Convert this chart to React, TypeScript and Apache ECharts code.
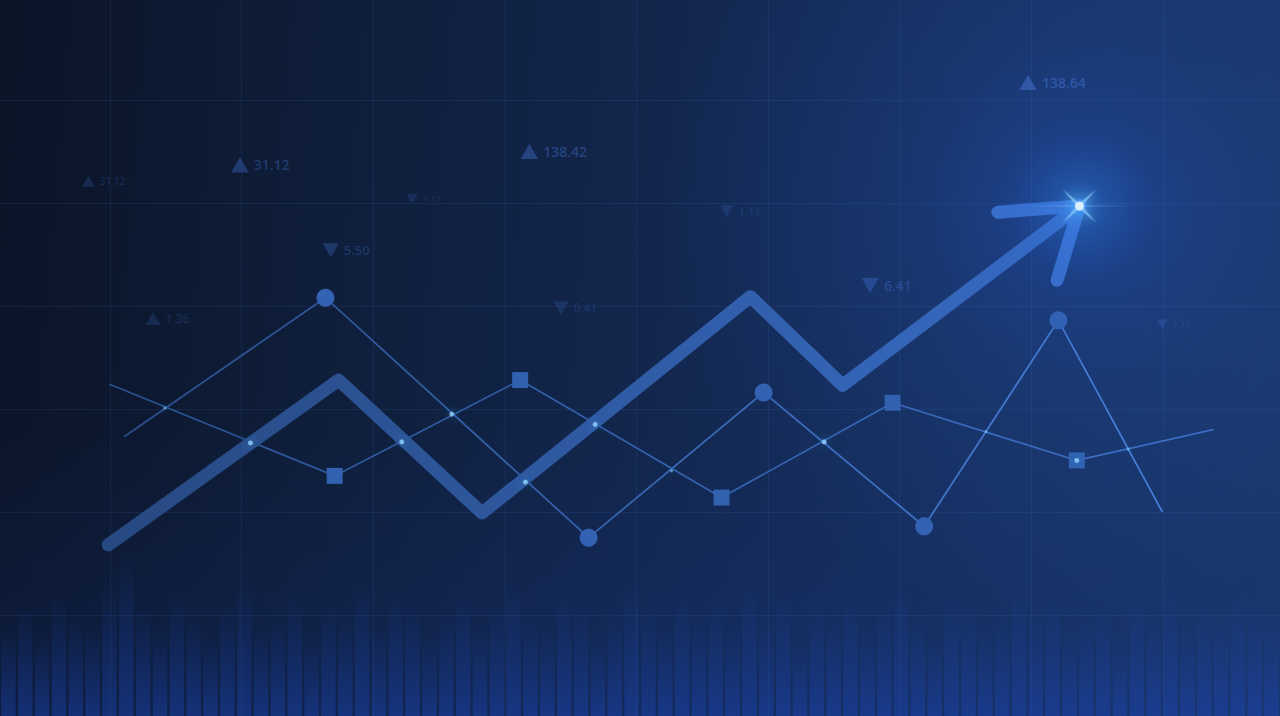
import React, { useEffect, useRef } from "react";
import * as echarts from "echarts";

// x: time index of the price chart, y: price level
const trendLine = [[9.9, 16.8], [27.4, 32.8], [38.3, 19.9], [58.7, 40.9], [65.7, 32.3], [83.7, 49.7]];
const arrowHead = [[77.5, 49.1], [83.7, 49.7], [82.0, 42.5]];
const circleLine = [[11.1, 27.3], [26.4, 40.8], [46.4, 17.5], [59.7, 31.6], [71.9, 18.6], [82.1, 38.6], [90.0, 20.0]];
const squareLine = [[10.0, 32.4], [27.1, 23.5], [41.2, 32.8], [56.5, 21.4], [69.5, 30.6], [83.5, 25.0], [93.9, 28.0]];

const tickerPos = [[8.4, 52.1], [19.9, 53.7], [41.9, 55.0], [79.8, 61.7], [26.8, 45.4], [13.3, 38.8], [44.3, 39.8], [56.9, 49.2], [67.8, 42.0], [33.0, 50.4], [90.0, 38.2]];
const tickerText = ["31.12", "31.12", "138.42", "138.64", "5.50", "1.36", "0.41", "1.11", "6.41", "1.11", "1.11"];
const tickerUp = [true, true, true, true, false, true, false, false, false, false, false];

const crossings = [[20.7, 26.7], [32.2, 26.8], [36.0, 29.5], [41.6, 22.9], [46.9, 28.5], [64.3, 26.8], [83.5, 25.0]];
const faintCrossings = [[52.7, 24.0], [76.6, 27.8], [87.4, 26.1], [14.2, 30.1]];

const volume = [9, 11, 8, 12, 10, 9, 13, 16, 11, 9, 12, 10, 8, 11, 13, 9, 10, 12, 8, 11, 10, 13, 9, 12, 11, 8, 10, 12, 9, 11, 13, 10, 9, 12, 11, 8, 10, 13, 11, 9, 12, 10, 11, 9, 13, 10, 12, 8, 11, 10, 12, 9, 11, 13, 10, 8, 12, 11, 9, 10, 13, 11, 12, 9, 10, 11, 8, 12, 10, 13, 9, 11, 10, 12, 11, 10];

const tip = arrowHead[1];

export default function App() {
  const ref = useRef<HTMLDivElement>(null);
  useEffect(() => {
    if (!ref.current) return;
    const chart = echarts.init(ref.current, null, { renderer: "svg" });
    const hideAxis = {
      axisLine: { show: false },
      axisTick: { show: false },
      axisLabel: { show: false },
    };
    const noSplit = { show: false };
    const gridLine = { show: true, lineStyle: { color: "rgba(80,125,210,0.13)", width: 1 } };
    const hGrad = (a: string, b: string) => ({
      type: "linear", x: 0, y: 0, x2: 1, y2: 0,
      colorStops: [{ offset: 0, color: a }, { offset: 1, color: b }],
    });
    const look = [
      { fs: 10, c: "rgba(50,90,165,0.38)" },
      { fs: 14, c: "rgba(50,90,165,0.65)" },
      { fs: 14, c: "rgba(55,95,175,0.7)" },
      { fs: 14, c: "rgba(60,105,190,0.8)" },
      { fs: 13, c: "rgba(50,90,165,0.55)" },
      { fs: 12, c: "rgba(50,90,165,0.35)" },
      { fs: 12, c: "rgba(55,95,175,0.35)" },
      { fs: 11, c: "rgba(55,95,175,0.35)" },
      { fs: 14, c: "rgba(55,100,185,0.62)" },
      { fs: 9, c: "rgba(55,95,175,0.3)" },
      { fs: 9, c: "rgba(60,105,190,0.4)" },
    ];
    const marked = (pts: number[][], sym: string) =>
      pts.map((p, i) => ({ value: p, symbol: i === 0 || i === pts.length - 1 ? "none" : sym }));

    const option = {
      animation: false,
      backgroundColor: "transparent",
      grid: [
        { left: 0, right: 0, top: 0, bottom: 0, containLabel: false },
        { left: 110, right: 0, top: 0, bottom: 0, containLabel: false },
        { left: 0, right: 0, top: 100, bottom: 0, containLabel: false },
      ],
      xAxis: [
        { type: "value", gridIndex: 0, min: 1.67, max: 98.94, ...hideAxis, splitLine: noSplit },
        { type: "value", gridIndex: 1, min: 0, max: 88.9, interval: 10, ...hideAxis, splitLine: gridLine },
        { type: "value", gridIndex: 2, min: 0, max: 10, ...hideAxis, splitLine: noSplit },
        { type: "category", gridIndex: 0, data: volume.map((_, i) => String(i)), boundaryGap: true, show: false },
      ],
      yAxis: [
        { type: "value", gridIndex: 0, min: 0.19, max: 69.7, ...hideAxis, splitLine: noSplit },
        { type: "value", gridIndex: 1, min: 0, max: 10, ...hideAxis, splitLine: noSplit },
        { type: "value", gridIndex: 2, inverse: true, min: 0, max: 59.8, interval: 10, ...hideAxis, splitLine: gridLine },
      ],
      series: [
        {
          type: "bar",
          xAxisIndex: 3,
          yAxisIndex: 0,
          data: volume,
          barCategoryGap: "14%",
          silent: true,
          z: 1,
          itemStyle: {
            color: {
              type: "linear", x: 0, y: 0, x2: 0, y2: 1,
              colorStops: [
                { offset: 0, color: "rgba(30,70,175,0)" },
                { offset: 1, color: "rgba(30,72,190,0.42)" },
              ],
            },
          },
        },
        {
          type: "line",
          xAxisIndex: 0,
          yAxisIndex: 0,
          data: marked(circleLine, "circle"),
          symbolSize: 18,
          lineStyle: { width: 1.7, color: hGrad("#2a4d8a", "#4680dc") },
          itemStyle: { color: "#3262b1" },
          z: 3,
        },
        {
          type: "line",
          xAxisIndex: 0,
          yAxisIndex: 0,
          data: marked(squareLine, "rect"),
          symbolSize: 16,
          lineStyle: { width: 1.7, color: hGrad("#2b5090", "#3c72ca") },
          itemStyle: { color: "#3161af" },
          z: 3,
        },
        {
          type: "line",
          xAxisIndex: 0,
          yAxisIndex: 0,
          data: trendLine,
          symbol: "none",
          lineStyle: { width: 13, cap: "round", join: "round", color: hGrad("#274982", "#376bc4") },
          z: 4,
        },
        {
          type: "line",
          xAxisIndex: 0,
          yAxisIndex: 0,
          data: arrowHead,
          symbol: "none",
          lineStyle: { width: 13, cap: "round", join: "round", color: "#3a70cb" },
          z: 4,
        },
        {
          type: "scatter",
          xAxisIndex: 0,
          yAxisIndex: 0,
          data: crossings,
          symbol: "circle",
          symbolSize: 5,
          itemStyle: { color: "#8fd6ff", shadowBlur: 12, shadowColor: "#39a8ff" },
          z: 6,
        },
        {
          type: "scatter",
          xAxisIndex: 0,
          yAxisIndex: 0,
          data: faintCrossings,
          symbol: "circle",
          symbolSize: 3,
          itemStyle: { color: "rgba(140,210,255,0.7)", shadowBlur: 6, shadowColor: "#39a8ff" },
          z: 6,
        },
        {
          type: "scatter",
          xAxisIndex: 0,
          yAxisIndex: 0,
          data: tickerPos.map((p, i) => ({
            value: p,
            symbol: "triangle",
            symbolRotate: tickerUp[i] ? 0 : 180,
            symbolSize: [look[i].fs * 1.25, look[i].fs * 1.1],
            itemStyle: { color: look[i].c },
            label: {
              show: true,
              position: "right",
              distance: 5,
              formatter: tickerText[i],
              fontSize: look[i].fs,
              fontWeight: 600,
              fontFamily: "Open Sans",
              color: look[i].c,
            },
          })),
          z: 2,
        },
        {
          type: "scatter",
          xAxisIndex: 0,
          yAxisIndex: 0,
          data: [tip],
          symbol: "circle",
          symbolSize: 340,
          silent: true,
          itemStyle: {
            color: {
              type: "radial", x: 0.5, y: 0.5, r: 0.5,
              colorStops: [
                { offset: 0, color: "rgba(80,175,255,0.65)" },
                { offset: 0.14, color: "rgba(50,130,245,0.38)" },
                { offset: 0.45, color: "rgba(35,95,220,0.12)" },
                { offset: 1, color: "rgba(30,80,200,0)" },
              ],
            },
          },
          z: 7,
        },
        {
          type: "scatter",
          xAxisIndex: 0,
          yAxisIndex: 0,
          data: [tip],
          symbol: "path://M0,-50 L3,-3 L50,0 L3,3 L0,50 L-3,3 L-50,0 L-3,-3 Z",
          symbolSize: [110, 10],
          silent: true,
          itemStyle: { color: "rgba(170,225,255,0.85)", shadowBlur: 10, shadowColor: "#3ea0ff" },
          z: 8,
        },
        {
          type: "scatter",
          xAxisIndex: 0,
          yAxisIndex: 0,
          data: [tip],
          symbol: "path://M0,-50 L4,-4 L50,0 L4,4 L0,50 L-4,4 L-50,0 L-4,-4 Z",
          symbolSize: 48,
          symbolRotate: 45,
          silent: true,
          itemStyle: { color: "rgba(150,215,255,0.8)", shadowBlur: 10, shadowColor: "#3ea0ff" },
          z: 8,
        },
        {
          type: "scatter",
          xAxisIndex: 0,
          yAxisIndex: 0,
          data: [tip],
          symbol: "circle",
          symbolSize: 9,
          silent: true,
          itemStyle: { color: "#eef9ff", shadowBlur: 18, shadowColor: "#5ab8ff" },
          z: 9,
        },
      ],
    };
    chart.setOption(option as any);
    return () => chart.dispose();
  }, []);

  return (
    <div
      style={{
        position: "fixed",
        left: 0,
        top: 0,
        width: 1280,
        height: 716,
        background:
          "radial-gradient(circle at 84% 29%, rgba(40,100,220,0.26) 0, rgba(40,100,220,0) 35%), linear-gradient(180deg, rgba(20,50,120,0) 60%, rgba(20,55,140,0.22) 100%), linear-gradient(95deg, #0b1427 0%, #0f1f3d 30%, #142a55 60%, #1a3669 100%)",
      }}
    >
      <div ref={ref} style={{ width: 1280, height: 716 }} />
    </div>
  );
}
